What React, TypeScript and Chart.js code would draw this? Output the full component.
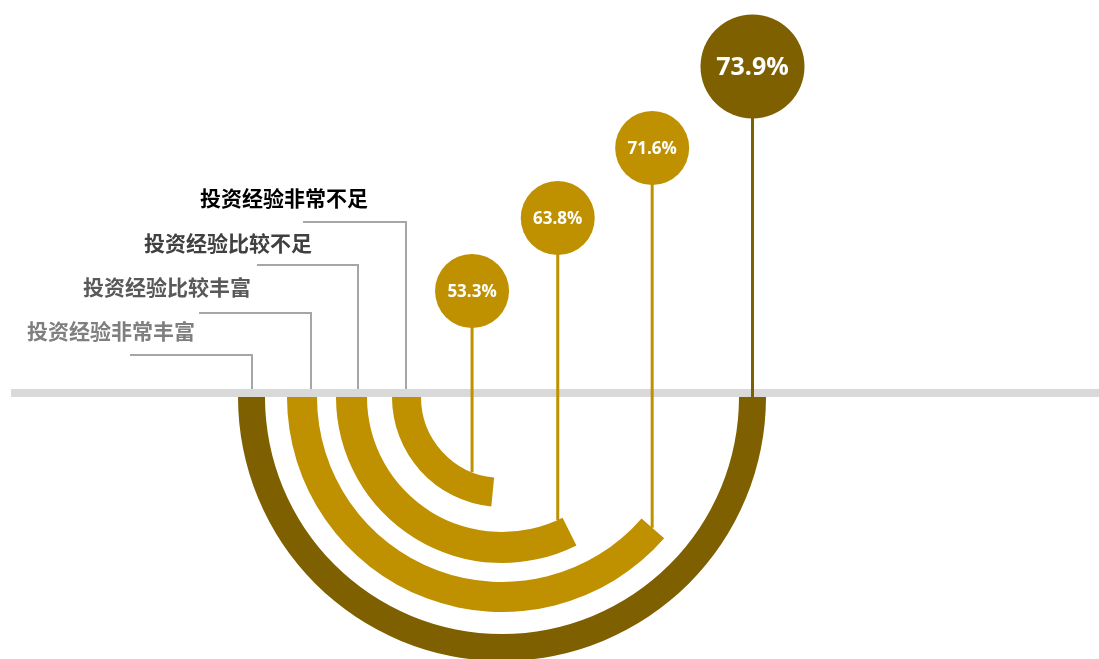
import React, { useEffect, useRef } from 'react';
import { Chart, registerables } from 'chart.js';

Chart.register(...registerables);

// ---- data (outer ring first) ----
const categories = ['投资经验非常丰富', '投资经验比较丰富', '投资经验比较不足', '投资经验非常不足'];
const values = [73.9, 71.6, 63.8, 53.3];
// share of the lower half-ring that each arc fills
const arcShare = [1.0, 0.772, 0.648, 0.469];
const valueLabels = values.map((v) => v.toFixed(1) + '%');

// ---- styles / layout ----
const W = 1099;
const H = 659;
const CX = 502;
const CY = 397;
const OUTER_R = 264;
const INNER_R = 81;
const ringColors = ['#7F6000', '#BF9000', '#BF9000', '#BF9000'];
const ringWeights = [27, 30, 31, 29];
const gapWeights = [22, 19, 25];
const TRANSPARENT = 'rgba(0,0,0,0)';

const lollipop = {
  heights: [330.5, 249, 179, 106],
  radii: [52, 37, 37, 37],
  insetDeg: [0, 0.3, 4.9, 12.7],
  fontSizes: [25, 17, 17, 17],
};

const labelLayout = [
  { x: 27, y: 331, color: '#7F7F7F', lineY: 355, x1: 130, x2: 252 },
  { x: 83, y: 287, color: '#595959', lineY: 313, x1: 199, x2: 311 },
  { x: 144, y: 243, color: '#404040', lineY: 265, x1: 257, x2: 358 },
  { x: 200, y: 198, color: '#000000', lineY: 222, x1: 303, x2: 406 },
];

const ringIndex: number[] = [];
const datasets: any[] = [];
values.forEach((v, i) => {
  ringIndex.push(datasets.length);
  datasets.push({
    label: categories[i],
    data: [1 - arcShare[i], arcShare[i], 1],
    backgroundColor: [TRANSPARENT, ringColors[i], TRANSPARENT],
    borderWidth: 0,
    weight: ringWeights[i],
  });
  if (i < gapWeights.length) {
    datasets.push({
      label: 'gap' + i,
      data: [1],
      backgroundColor: [TRANSPARENT],
      borderWidth: 0,
      weight: gapWeights[i],
    });
  }
});

const decorPlugin = {
  id: 'decor',
  beforeDatasetsDraw(chart: any) {
    const ctx = chart.ctx as CanvasRenderingContext2D;
    ctx.save();
    // baseline band
    ctx.fillStyle = '#D9D9D9';
    ctx.fillRect(11, 389, W - 11, 8);
    // leader lines + category labels
    labelLayout.forEach((l, i) => {
      ctx.strokeStyle = '#A6A6A6';
      ctx.lineWidth = 2;
      ctx.beginPath();
      ctx.moveTo(l.x1, l.lineY);
      ctx.lineTo(l.x2, l.lineY);
      ctx.lineTo(l.x2, 389);
      ctx.stroke();
      ctx.fillStyle = l.color;
      ctx.font = 'bold 21px "Noto Sans CJK SC", sans-serif';
      ctx.textAlign = 'left';
      ctx.textBaseline = 'middle';
      ctx.fillText(categories[i], l.x, l.y);
    });
    ctx.restore();
  },
  afterDatasetsDraw(chart: any) {
    const ctx = chart.ctx as CanvasRenderingContext2D;
    ctx.save();
    ringIndex.forEach((dsIdx, i) => {
      const arc: any = chart.getDatasetMeta(dsIdx).data[1];
      if (!arc) return;
      const { x, y, startAngle, innerRadius, outerRadius } = arc;
      const a = startAngle + (lollipop.insetDeg[i] * Math.PI) / 180;
      const rMid = (innerRadius + outerRadius) / 2;
      const sx = x + rMid * Math.cos(a);
      const dx = sx - x;
      let by: number;
      if (Math.abs(dx) <= innerRadius) {
        const phi = Math.acos(dx / innerRadius);
        by = phi >= startAngle - 1e-6 ? y + innerRadius * Math.sin(phi) : y + dx * Math.tan(startAngle);
      } else {
        by = y + dx * Math.tan(startAngle);
      }
      const bcy = y - lollipop.heights[i];
      ctx.strokeStyle = ringColors[i];
      ctx.lineWidth = 3;
      ctx.beginPath();
      ctx.moveTo(sx, by);
      ctx.lineTo(sx, bcy);
      ctx.stroke();
      ctx.fillStyle = ringColors[i];
      ctx.beginPath();
      ctx.arc(sx, bcy, lollipop.radii[i], 0, Math.PI * 2);
      ctx.fill();
      ctx.fillStyle = '#FFFFFF';
      ctx.font = `bold ${lollipop.fontSizes[i]}px "Open Sans", sans-serif`;
      ctx.textAlign = 'center';
      ctx.textBaseline = 'middle';
      ctx.fillText(valueLabels[i], sx, bcy + 1);
    });
    ctx.restore();
  },
};

export default function App() {
  const ref = useRef<HTMLCanvasElement | null>(null);
  useEffect(() => {
    if (!ref.current) return;
    const chart = new Chart(ref.current, {
      type: 'doughnut',
      data: { labels: ['gap', 'value', 'upper'], datasets },
      options: {
        animation: false,
        responsive: false,
        devicePixelRatio: 1,
        rotation: 90,
        circumference: 360,
        radius: OUTER_R,
        cutout: ((INNER_R / OUTER_R) * 100).toFixed(3) + '%',
        layout: { padding: { left: 2 * CX - W + 0 > 0 ? 2 * CX - W : 0, right: 2 * CX - W < 0 ? W - 2 * CX : 0, top: 2 * CY - H > 0 ? 2 * CY - H : 0, bottom: 2 * CY - H < 0 ? H - 2 * CY : 0 } },
        plugins: { legend: { display: false }, tooltip: { enabled: false } },
        events: [],
      } as any,
      plugins: [decorPlugin],
    });
    return () => chart.destroy();
  }, []);
  return (
    <div style={{ position: 'fixed', left: 0, top: 0, width: W, height: H, overflow: 'hidden', background: '#fff' }}>
      <canvas ref={ref} width={W} height={H} style={{ display: 'block' }} />
    </div>
  );
}
